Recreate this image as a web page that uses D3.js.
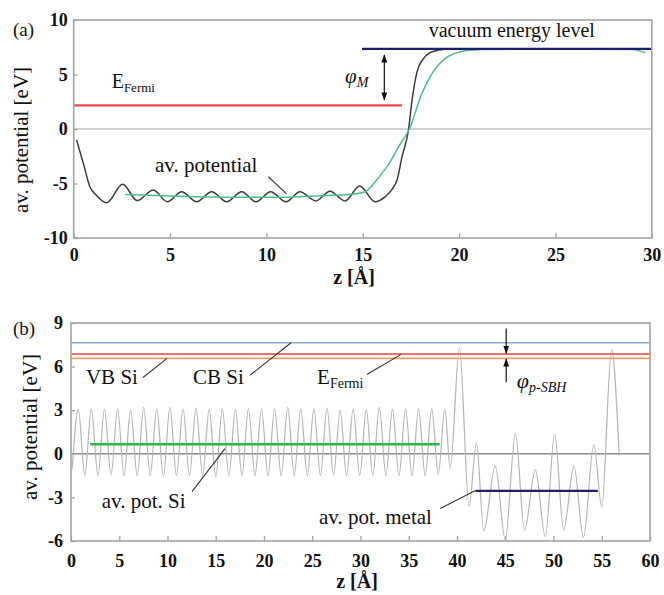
<!DOCTYPE html>
<html>
<head>
<meta charset="utf-8">
<script src="https://cdn.jsdelivr.net/npm/d3@7"></script>
<style>
  html, body { margin: 0; padding: 0; background: #fff; }
  svg { display: block; font-family: "Liberation Serif", "Times New Roman", serif; }
  svg text { font-family: "Liberation Serif", "Times New Roman", serif; }
</style>
</head>
<body>
<svg id="chart" width="664" height="595"></svg>
<script>
// ---------- Panel (a): metal slab, plane-averaged potential ----------
const ticksAx = [0, 5, 10, 15, 20, 25, 30];
const ticksAy = [-10, -5, 0, 5, 10];
// plane-averaged electrostatic potential [z (Å), V (eV)]
const avPotentialA = [
  [0.15, -1.0], [0.5, -3.15], [0.85, -5.35], [1.19, -6.1], [1.71, -6.76],
  [2.54, -5.08], [3.3, -6.57], [4.13, -5.6], [4.86, -6.67], [5.6, -5.75],
  [6.38, -6.67], [7.16, -5.75], [7.94, -6.67], [8.72, -5.75], [9.46, -6.67],
  [10.22, -5.75], [11.02, -6.67], [11.74, -5.75], [12.57, -6.6], [13.3, -5.7],
  [14.08, -6.6], [14.84, -5.23], [15.64, -6.67], [16.17, -6.2], [16.52, -5.54],
  [16.78, -4.68], [17.04, -2.54], [17.38, 0], [17.56, 2.66], [17.82, 5.26],
  [18.16, 6.48], [18.6, 7.09], [19.3, 7.31], [20.5, 7.35], [30, 7.35]
];
// macroscopic (period-averaged) potential
const macroPotentialA = [
  [2.66, -6.0], [5.0, -6.15], [8.0, -6.25], [11.0, -6.25], [13.4, -6.08],
  [14.45, -5.98], [15.13, -5.75], [15.65, -4.83], [16.0, -4.07], [16.43, -3.0],
  [16.87, -1.6], [17.42, 0], [18.07, 3.27], [18.6, 5.1], [19.29, 6.48],
  [20.32, 7.18], [21.2, 7.3], [25.0, 7.35], [29.0, 7.3], [29.66, 7.0]
];
const fermiA = 2.17;          // Fermi energy, eV
const fermiAEnd = 17.04;      // extent of the Fermi level line, Å
const vacuumA = 7.35;         // vacuum level, eV
const vacuumAStart = 14.96;

// ---------- Panel (b): Si / metal interface ----------
const ticksBx = [0, 5, 10, 15, 20, 25, 30, 35, 40, 45, 50, 55, 60];
const ticksBy = [-6, -3, 0, 3, 6, 9];
const avPotentialB = [
  [0.12, -1.05], [0.76, 3.05], [1.43, -1.5], [2.11, 3.1], [2.79, -1.5], [3.47, 3.05],
  [4.15, -1.45], [4.83, 3.1], [5.5, -1.5], [6.18, 3.0], [6.86, -1.5], [7.53, 3.2],
  [8.21, -1.5], [8.89, 3.1], [9.57, -1.55], [10.25, 3.2], [10.93, -1.5], [11.61, 3.1],
  [12.28, -1.5], [12.96, 3.15], [13.64, -1.5], [14.32, 3.05], [15.0, -1.55], [15.68, 3.1],
  [16.36, -1.5], [17.04, 3.05], [17.71, -1.5], [18.39, 3.1], [19.07, -1.5], [19.74, 3.1],
  [20.42, -1.55], [21.1, 3.1], [21.78, -1.5], [22.46, 3.2], [23.13, -1.5], [23.81, 3.1],
  [24.49, -1.5], [25.17, 3.1], [25.85, -1.5], [26.53, 3.15], [27.21, -1.45], [27.89, 3.0],
  [28.56, -1.5], [29.24, 3.1], [29.92, -1.5], [30.6, 3.05], [31.27, -1.5], [31.95, 3.2],
  [32.63, -1.5], [33.31, 3.05], [33.99, -1.5], [34.67, 3.1], [35.34, -1.5], [36.02, 3.1],
  [36.7, -1.5], [37.38, 3.1], [38.06, -1.4], [38.74, 3.05], [39.3, -1.0], [40.25, 7.29],
  [41.25, -3.6], [42.02, 0.75], [42.77, -5.3], [43.97, -0.85], [45.0, -5.9], [46.05, 1.4],
  [47.0, -5.25], [48.12, -1.1], [49.15, -5.7], [50.12, 1.38], [51.05, -5.25], [52.12, -0.85],
  [53.1, -5.75], [54.18, 0.64], [55.0, -3.65], [56.02, 7.18], [56.8, -0.05]
];
const cbSi = 7.64;            // conduction band of Si, eV
const fermiB = 6.87;          // Fermi energy, eV
const vbSi = 6.57;            // valence band of Si, eV
const avPotSi = 0.66;         // average potential in Si
const avPotSiRange = [2.0, 38.2];
const avPotMetal = -2.55;     // average potential in the metal
const avPotMetalRange = [41.9, 54.6];

// ---------- drawing ----------
const FONT = "'Liberation Serif', 'Times New Roman', serif";
const svg = d3.select("#chart");
svg.append("rect").attr("width", 664).attr("height", 595).attr("fill", "#fff");

const defs = svg.append("defs");
defs.append("marker")
  .attr("id", "arrowHead")
  .attr("viewBox", "0 0 10 10")
  .attr("refX", 9).attr("refY", 5)
  .attr("markerWidth", 7).attr("markerHeight", 7)
  .attr("orient", "auto-start-reverse")
  .append("path").attr("d", "M0,1.5 L10,5 L0,8.5 Z").attr("fill", "#111");

const frameColor = "#a3a3a3";
const tickText = d => String(d);   // plain hyphen for negatives

function drawFrame(g, x, y, xTicks, yTicks, xPad, yPad) {
  const [x0, x1] = x.range();
  const [y0, y1] = y.range();
  const xAxis = d3.axisBottom(x).tickValues(xTicks).tickSize(-5).tickSizeOuter(0)
    .tickPadding(xPad).tickFormat(tickText);
  const yAxis = d3.axisLeft(y).tickValues(yTicks).tickSize(-4).tickSizeOuter(0)
    .tickPadding(yPad).tickFormat(tickText);
  const gx = g.append("g").attr("transform", `translate(0,${y0})`).call(xAxis);
  const gy = g.append("g").attr("transform", `translate(${x0},0)`).call(yAxis);
  [gx, gy].forEach(a => {
    a.attr("font-family", FONT).attr("font-size", 18);
    a.select(".domain").remove();
    a.selectAll(".tick line").attr("stroke", frameColor).attr("stroke-width", 1.3);
    a.selectAll(".tick text")
      .attr("fill", "#111")
      .style("font-family", FONT)
      .style("font-size", "18px")
      .style("font-weight", "bold");
  });
  g.append("rect")
    .attr("x", x0).attr("y", y1)
    .attr("width", x1 - x0).attr("height", y0 - y1)
    .attr("fill", "none").attr("stroke", frameColor).attr("stroke-width", 1.6);
}

function hline(g, x, y, v, from, to, color, width) {
  g.append("line")
    .attr("x1", x(from)).attr("x2", x(to))
    .attr("y1", y(v)).attr("y2", y(v))
    .attr("stroke", color).attr("stroke-width", width);
}

function leader(g, x, y, p0, p1) {
  g.append("line")
    .attr("x1", x(p0[0])).attr("y1", y(p0[1]))
    .attr("x2", x(p1[0])).attr("y2", y(p1[1]))
    .attr("stroke", "#333").attr("stroke-width", 1.1);
}

function label(g, px, py, parts, size, anchor) {
  const t = g.append("text")
    .attr("x", px).attr("y", py)
    .attr("text-anchor", anchor || "start")
    .attr("fill", "#111")
    .style("font-family", FONT)
    .style("font-size", size + "px");
  parts.forEach(p => {
    const s = t.append("tspan").text(p.text);
    if (p.sub) s.attr("dy", p.dy || 4).style("font-size", (p.size || size * 0.65) + "px");
    if (p.italic) s.style("font-style", "italic");
    if (p.bold) s.style("font-weight", "bold");
  });
  return t;
}

function arrow(g, x, y, zx, fromV, toV) {
  g.append("line")
    .attr("x1", x(zx)).attr("x2", x(zx))
    .attr("y1", y(fromV)).attr("y2", y(toV))
    .attr("stroke", "#111").attr("stroke-width", 1.2)
    .attr("marker-end", "url(#arrowHead)");
}

// ----- panel (a) -----
const xA = d3.scaleLinear().domain([0, 30]).range([73.7, 651.8]);
const yA = d3.scaleLinear().domain([-10, 10]).range([238, 20]);
const gA = svg.append("g");

hline(gA, xA, yA, 0, 0, 30, "#a8a8a8", 1.2);

const lineA = d3.line().x(d => xA(d[0])).y(d => yA(d[1])).curve(d3.curveMonotoneX);
gA.append("path").datum(avPotentialA).attr("d", lineA)
  .attr("fill", "none").attr("stroke", "#3a3a3a").attr("stroke-width", 1.5);
gA.append("path").datum(macroPotentialA).attr("d", lineA)
  .attr("fill", "none").attr("stroke", "#4cbf86").attr("stroke-width", 1.5);

hline(gA, xA, yA, fermiA, 0, fermiAEnd, "#f04848", 2.2);
hline(gA, xA, yA, vacuumA, vacuumAStart, 30, "#1e1e6e", 2.4);

// work function arrow
gA.append("line")
  .attr("x1", xA(16.12)).attr("x2", xA(16.12))
  .attr("y1", yA(6.79)).attr("y2", yA(2.66))
  .attr("stroke", "#111").attr("stroke-width", 1.2)
  .attr("marker-start", "url(#arrowHead)")
  .attr("marker-end", "url(#arrowHead)");

drawFrame(gA, xA, yA, ticksAx, ticksAy, 10, 6);

label(gA, 13, 36, [{ text: "(a)" }], 19);
label(gA, xA(18.42), yA(8.44), [{ text: "vacuum energy level" }], 20);
label(gA, xA(1.97), yA(3.76), [{ text: "E" }, { text: "Fermi", sub: true, size: 13, dy: 4 }], 20);
label(gA, xA(14.08), yA(4.22), [{ text: "φ", italic: true }, { text: "M", sub: true, italic: true, size: 14, dy: 4 }], 21);
label(gA, xA(4.22), yA(-3.92), [{ text: "av. potential" }], 21);
leader(gA, xA, yA, [10.1, -4.38], [11.05, -5.96]);

gA.append("text")
  .attr("transform", `translate(28,140) rotate(-90)`)
  .attr("text-anchor", "middle").attr("fill", "#111")
  .style("font-family", FONT).style("font-size", "21px")
  .text("av. potential [eV]");
gA.append("text")
  .attr("x", 354).attr("y", 284)
  .attr("text-anchor", "middle").attr("fill", "#111")
  .style("font-family", FONT).style("font-size", "20px").style("font-weight", "bold")
  .text("z [Å]");

// ----- panel (b) -----
const xB = d3.scaleLinear().domain([0, 60]).range([71, 650]);
const yB = d3.scaleLinear().domain([-6, 9]).range([541, 323]);
const gB = svg.append("g");

hline(gB, xB, yB, 0, 0, 60, "#8c8c8c", 1.5);

const lineB = d3.line().x(d => xB(d[0])).y(d => yB(d[1])).curve(d3.curveMonotoneX);
gB.append("path").datum(avPotentialB).attr("d", lineB)
  .attr("fill", "none").attr("stroke", "#b4b4b4").attr("stroke-width", 1.2);

hline(gB, xB, yB, cbSi, 0, 60, "#86a8da", 1.6);
hline(gB, xB, yB, fermiB, 0, 60, "#ee4040", 1.6);
hline(gB, xB, yB, vbSi, 0, 60, "#f0a062", 1.8);
hline(gB, xB, yB, avPotSi, avPotSiRange[0], avPotSiRange[1], "#2fb84a", 2.6);
hline(gB, xB, yB, avPotMetal, avPotMetalRange[0], avPotMetalRange[1], "#20206e", 2.4);

// Schottky barrier height arrows
arrow(gB, xB, yB, 45.1, 8.62, fermiB + 0.05);
arrow(gB, xB, yB, 45.1, 4.93, vbSi - 0.05);

drawFrame(gB, xB, yB, ticksBx, ticksBy, 13, 8);

label(gB, 13, 335, [{ text: "(b)" }], 19);
label(gB, xB(1.55), yB(4.77), [{ text: "VB Si" }], 21);
leader(gB, xB, yB, [7.46, 5.25], [9.95, 6.57]);
label(gB, xB(12.64), yB(4.77), [{ text: "CB Si" }], 21);
leader(gB, xB, yB, [18.55, 5.4], [22.8, 7.64]);
label(gB, xB(25.5), yB(4.77), [{ text: "E" }, { text: "Fermi", sub: true, size: 14, dy: 4 }], 21);
leader(gB, xB, yB, [30.67, 5.46], [34.2, 6.84]);
label(gB, xB(46.2), yB(4.56), [{ text: "φ", italic: true }, { text: "p-SBH", sub: true, italic: true, size: 14, dy: 4 }], 22);
label(gB, xB(3.18), yB(-3.7), [{ text: "av. pot. Si" }], 21);
leader(gB, xB, yB, [12.54, -2.6], [15.96, 0.36]);
label(gB, xB(37.4), yB(-4.86), [{ text: "av. pot. metal" }], 21, "end");
leader(gB, xB, yB, [38.27, -3.76], [41.86, -2.55]);

gB.append("text")
  .attr("transform", `translate(37,427) rotate(-90)`)
  .attr("text-anchor", "middle").attr("fill", "#111")
  .style("font-family", FONT).style("font-size", "21px")
  .text("av. potential [eV]");
gB.append("text")
  .attr("x", 357).attr("y", 588)
  .attr("text-anchor", "middle").attr("fill", "#111")
  .style("font-family", FONT).style("font-size", "20px").style("font-weight", "bold")
  .text("z [Å]");
</script>
</body>
</html>
